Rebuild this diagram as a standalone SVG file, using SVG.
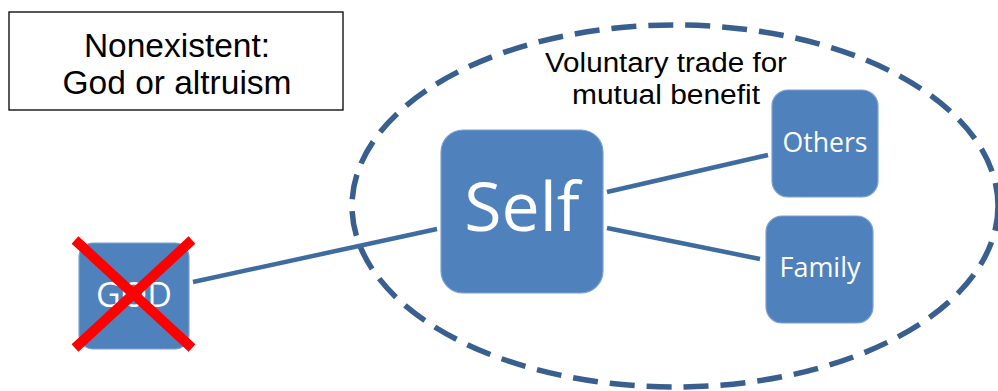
<svg xmlns="http://www.w3.org/2000/svg" width="998" height="391" viewBox="0 0 998 391">
  <style>
    .box { fill: #4F81BD; stroke: #7EA2CF; stroke-width: 1.2; }
    .lbl { fill: #ffffff; font-family: "Open Sans", "Noto Sans", sans-serif; text-anchor: middle; }
    .note { fill: #000000; font-family: "Liberation Sans", Arial, sans-serif; text-anchor: middle; }
    .link { stroke: #3F6C9F; stroke-width: 4.5; fill: none; stroke-linecap: butt; }
    .cross { stroke: #FF0000; stroke-width: 10; stroke-linecap: butt; }
  </style>
  <rect width="998" height="391" fill="#ffffff"/>

  <!-- caption box -->
  <g id="caption">
    <rect x="9" y="12" width="334" height="98" fill="#ffffff" stroke="#000000" stroke-width="1.3"/>
    <text class="note" x="177" y="57" font-size="33.5">Nonexistent:</text>
    <text class="note" x="177" y="94" font-size="33.5">God or altruism</text>
  </g>

  <!-- dashed boundary of voluntary trade -->
  <g id="trade-zone">
    <ellipse cx="675" cy="206" rx="323" ry="181" fill="none" stroke="#385F8E" stroke-width="5.5" stroke-dasharray="25 12"/>
    <text class="note" x="666" y="72" font-size="27" textLength="242" lengthAdjust="spacingAndGlyphs">Voluntary trade for</text>
    <text class="note" x="666" y="104" font-size="27" textLength="188" lengthAdjust="spacingAndGlyphs">mutual benefit</text>
  </g>

  <!-- connectors -->
  <g id="connectors">
    <line class="link" x1="193" y1="282" x2="437" y2="229"/>
    <line class="link" x1="607" y1="192" x2="768" y2="155"/>
    <line class="link" x1="607" y1="228" x2="760" y2="259"/>
  </g>

  <g id="god">
    <rect class="box" x="79" y="243" width="110" height="106" rx="14"/>
    <text class="lbl" x="134" y="307" font-size="34">GOD</text>
    <line class="cross" x1="75" y1="240" x2="192" y2="348"/>
    <line class="cross" x1="192" y1="240" x2="75" y2="348"/>
  </g>

  <g id="self">
    <rect class="box" x="441" y="130" width="162" height="163" rx="22"/>
    <text class="lbl" x="522" y="231" font-size="68">Self</text>
  </g>

  <g id="others">
    <rect class="box" x="772" y="90" width="106" height="107" rx="16"/>
    <text class="lbl" x="825" y="152" font-size="27" textLength="85" lengthAdjust="spacingAndGlyphs">Others</text>
  </g>

  <g id="family">
    <rect class="box" x="766" y="216" width="107" height="107" rx="16"/>
    <text class="lbl" x="820" y="277" font-size="27" textLength="81" lengthAdjust="spacingAndGlyphs">Family</text>
  </g>
</svg>
